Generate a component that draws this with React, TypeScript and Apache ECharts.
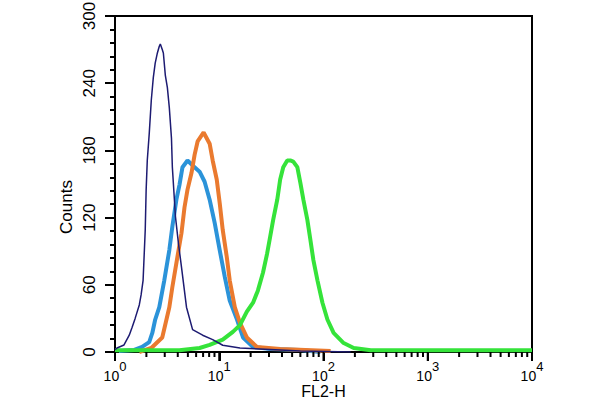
import React, { useEffect, useRef } from "react";
import * as echarts from "echarts";

// Histogram curves (x = FL2-H, y = Counts)
const navyX = [1.0, 1.045, 1.22, 1.37, 1.46, 1.56, 1.71, 1.78, 1.86, 1.95, 1.99, 2.04, 2.13, 2.23, 2.33, 2.43, 2.55, 2.66, 2.72, 2.84, 2.91, 3.04, 3.18, 3.32, 3.48, 3.55, 3.8, 4.06, 4.34, 4.85, 5.55, 6.93, 8.65, 10.8, 15.8, 24.6, 60, 182];
const navyY = [2, 3.6, 6.3, 15, 22, 30, 42, 51, 64, 109, 145, 171, 195, 225, 245, 258, 267, 273, 275, 270, 267, 247, 236, 218, 191, 165, 121, 97, 76, 40, 20, 15, 11, 6, 3.6, 2.7, 1, 0];

const blueX = [1.09, 1.53, 1.82, 2.13, 2.28, 2.43, 2.66, 2.97, 3.32, 3.55, 3.88, 4.15, 4.44, 4.96, 5.8, 6.48, 7.24, 8.09, 9.05, 10.1, 11.3, 12.6, 14.8, 16.9, 21.1, 30.8, 60, 93.5];
const blueY = [0.9, 1.8, 4.5, 8.9, 17, 29, 40, 64, 91, 112, 136, 149, 165, 171, 165, 161, 152, 136, 115, 91, 67, 46, 29, 13, 4.5, 2.7, 1.8, 0];

const orangeX = [1.71, 2.23, 2.84, 3.32, 3.55, 3.97, 4.34, 4.64, 4.96, 5.42, 5.8, 6.2, 7.08, 8.09, 8.65, 9.46, 10.1, 10.8, 11.8, 12.6, 14.1, 15.8, 18.4, 23.0, 38.4, 117];
const orangeY = [0, 3.6, 13, 40, 58, 85, 106, 129, 145, 160, 176, 188, 196, 186, 171, 154, 133, 109, 85, 64, 40, 26, 13, 4.5, 2.7, 0.9];

const greenX = [1, 4.15, 6.48, 8.09, 10.8, 13.5, 15.8, 18.4, 21.1, 23.5, 26.3, 28.8, 30.8, 32.9, 36.0, 38.4, 41.1, 44.9, 48.0, 51.3, 56.1, 60, 64.1, 70.0, 74.9, 80.0, 87.5, 97.7, 109, 125, 156, 195, 284, 10000];
const greenY = [1.5, 1.5, 3.6, 6.3, 11, 18, 24, 36, 44, 55, 71, 88, 103, 118, 136, 154, 165, 171, 171, 170, 165, 151, 136, 118, 100, 82, 64, 44, 29, 17, 8, 3.6, 1.5, 1.5];

// log-axis ticks: decades (major) and 2..9 within each decade (minor)
const majorTickValues = [1, 10, 100, 1000, 10000];
const minorTickDecades = [1, 10, 100, 1000];
const minorTickMultipliers = [2, 3, 4, 5, 6, 7, 8, 9];
const minorTickValues = minorTickDecades.flatMap((d) => minorTickMultipliers.map((m) => d * m));
const MAJOR_LEN = 9;
const MINOR_LEN = 5;

const zip = (xs: number[], ys: number[]) => xs.map((x, i) => [x, ys[i]]);

const FONT = "'Liberation Sans', Arial, sans-serif";

export default function App() {
  const ref = useRef<HTMLDivElement>(null);
  useEffect(() => {
    if (!ref.current) return;
    const chart = echarts.init(ref.current, null, { renderer: "svg" });
    const mkLine = (name: string, data: number[][], color: string, width: number) => ({
      name,
      type: "line",
      data,
      symbol: "none",
      lineStyle: { color, width },
      itemStyle: { color },
    });
    const tickData = [
      ...majorTickValues.map((v) => [v, MAJOR_LEN]),
      ...minorTickValues.map((v) => [v, MINOR_LEN]),
    ];
    chart.setOption({
      animation: false,
      grid: {
        left: 115,
        right: 68,
        top: 16,
        bottom: 48,
        outerBoundsMode: "none",
        show: true,
        borderColor: "#000",
        borderWidth: 2,
      },
      xAxis: {
        type: "log",
        logBase: 10,
        min: 1,
        max: 10000,
        name: "FL2-H",
        nameLocation: "middle",
        nameGap: 31,
        nameMoveOverlap: false,
        nameTextStyle: { fontSize: 16, color: "#000", fontFamily: FONT },
        axisLine: { show: true, lineStyle: { color: "#000", width: 2 } },
        axisTick: { show: true, length: MAJOR_LEN, lineStyle: { color: "#000", width: 2 } },
        splitLine: { show: false },
        axisLabel: {
          margin: 8,
          formatter: (v: number) => `{b|10}{s|${Math.round(Math.log10(v))}}`,
          rich: {
            b: { fontSize: 14, lineHeight: 32, color: "#000", fontFamily: FONT },
            s: { fontSize: 13, lineHeight: 14, verticalAlign: "top", color: "#000", fontFamily: FONT },
          },
        },
      },
      yAxis: {
        type: "value",
        min: 0,
        max: 300,
        interval: 60,
        axisLine: { show: true, lineStyle: { color: "#000", width: 2 } },
        axisTick: { show: true, length: 10, lineStyle: { color: "#000", width: 2 } },
        minorTick: { show: true, splitNumber: 5, length: 5, lineStyle: { color: "#000", width: 2 } },
        splitLine: { show: false },
        axisLabel: { rotate: 90, margin: 17, fontSize: 17, color: "#000", fontFamily: FONT },
      },
      graphic: [
        {
          type: "text",
          x: 66,
          y: 207,
          rotation: Math.PI / 2,
          style: {
            text: "Counts",
            fontSize: 17,
            fill: "#000",
            fontFamily: FONT,
            align: "center",
            verticalAlign: "middle",
          },
        },
      ],
      series: [
        mkLine("blue", zip(blueX, blueY), "#2b93d9", 4),
        mkLine("orange", zip(orangeX, orangeY), "#ea7a2f", 4),
        mkLine("green", zip(greenX, greenY), "#35e33a", 4),
        mkLine("navy", zip(navyX, navyY), "#1d1b72", 1.5),
        {
          // x-axis tick marks drawn through the axis' own log scale
          name: "xticks",
          type: "custom",
          clip: false,
          silent: true,
          z: 20,
          data: tickData,
          renderItem: (_params: any, api: any) => {
            const p = api.coord([api.value(0), 0]);
            const len = api.value(1);
            return {
              type: "line",
              shape: { x1: p[0], y1: p[1], x2: p[0], y2: p[1] + len },
              style: { stroke: "#000", lineWidth: 2 },
            };
          },
        },
      ],
    });
    return () => chart.dispose();
  }, []);
  return <div ref={ref} style={{ width: 600, height: 400, position: "absolute", left: 0, top: 0, background: "#fff" }} />;
}
